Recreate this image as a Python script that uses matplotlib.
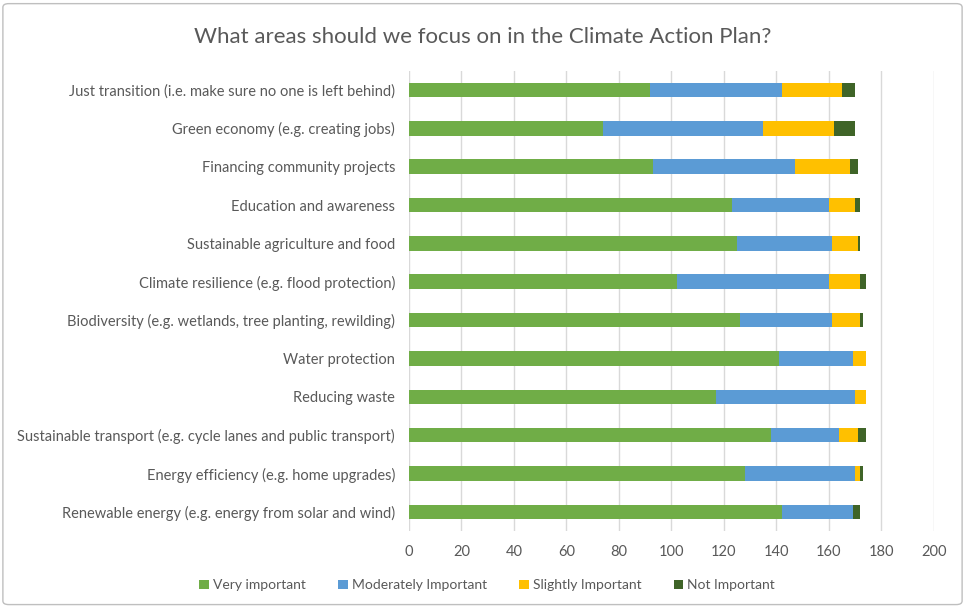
import matplotlib.pyplot as plt
from matplotlib.patches import FancyBboxPatch

plt.rcParams['font.family'] = ['Lato', 'DejaVu Sans']

# Áreas (de abajo hacia arriba, como se dibujan)
areas = [
    "Renewable energy (e.g. energy from solar and wind)",
    "Energy efficiency (e.g. home upgrades)",
    "Sustainable transport (e.g. cycle lanes and public transport)",
    "Reducing waste",
    "Water protection",
    "Biodiversity (e.g. wetlands, tree planting, rewilding)",
    "Climate resilience (e.g. flood protection)",
    "Sustainable agriculture and food",
    "Education and awareness",
    "Financing community projects",
    "Green economy (e.g. creating jobs)",
    "Just transition (i.e. make sure no one is left behind)",
]

very_important = [142, 128, 138, 117, 141, 126, 102, 125, 123, 93, 74, 92]
moderately_important = [27, 42, 26, 53, 28, 35, 58, 36, 37, 54, 61, 50]
slightly_important = [0, 2, 7, 4, 5, 11, 12, 10, 10, 21, 27, 23]
not_important = [3, 1, 3, 0, 0, 1, 2, 1, 2, 3, 8, 5]

series = [
    ("Very important", very_important, "#70AD47"),
    ("Moderately Important", moderately_important, "#5B9BD5"),
    ("Slightly Important", slightly_important, "#FFC000"),
    ("Not Important", not_important, "#3F6428"),
]

gris = "#595959"

fig = plt.figure(figsize=(9.65, 6.07), dpi=100)
ax = fig.add_axes([0.4238, 0.1252, 0.5440, 0.758])

# Barras apiladas
izquierda = [0] * len(areas)
for nombre, valores, color in series:
    ax.barh(areas, valores, left=izquierda, height=0.38, color=color,
            label=nombre, zorder=3)
    izquierda = [a + b for a, b in zip(izquierda, valores)]

ax.set_xlim(0, 200)
ax.set_ylim(-0.5, len(areas) - 0.5)
ax.set_xticks(range(0, 201, 20))
ax.grid(axis="x", color="#D9D9D9", linewidth=1, zorder=0)
for lado in ax.spines.values():
    lado.set_visible(False)
ax.tick_params(axis="both", length=0, colors=gris, labelsize=10.5)
ax.tick_params(axis="y", pad=10)
ax.tick_params(axis="x", pad=10)

fig.suptitle("What areas should we focus on in the Climate Action Plan?",
             x=0.5, y=0.955, fontsize=16, color=gris)

fig.legend(loc="lower center", bbox_to_anchor=(0.505, 0.005), ncol=4,
           frameon=False, fontsize=10, labelcolor=gris, handlelength=0.7,
           handleheight=0.7, handletextpad=0.3, columnspacing=2.3)

# Borde del área del gráfico
borde = FancyBboxPatch((0.003, 0.004), 0.994, 0.99,
                       boxstyle="round,pad=0,rounding_size=0.006",
                       transform=fig.transFigure, fill=False,
                       edgecolor="#BFBFBF", linewidth=1)
fig.patches.append(borde)

fig.savefig("out.png", dpi=100)
